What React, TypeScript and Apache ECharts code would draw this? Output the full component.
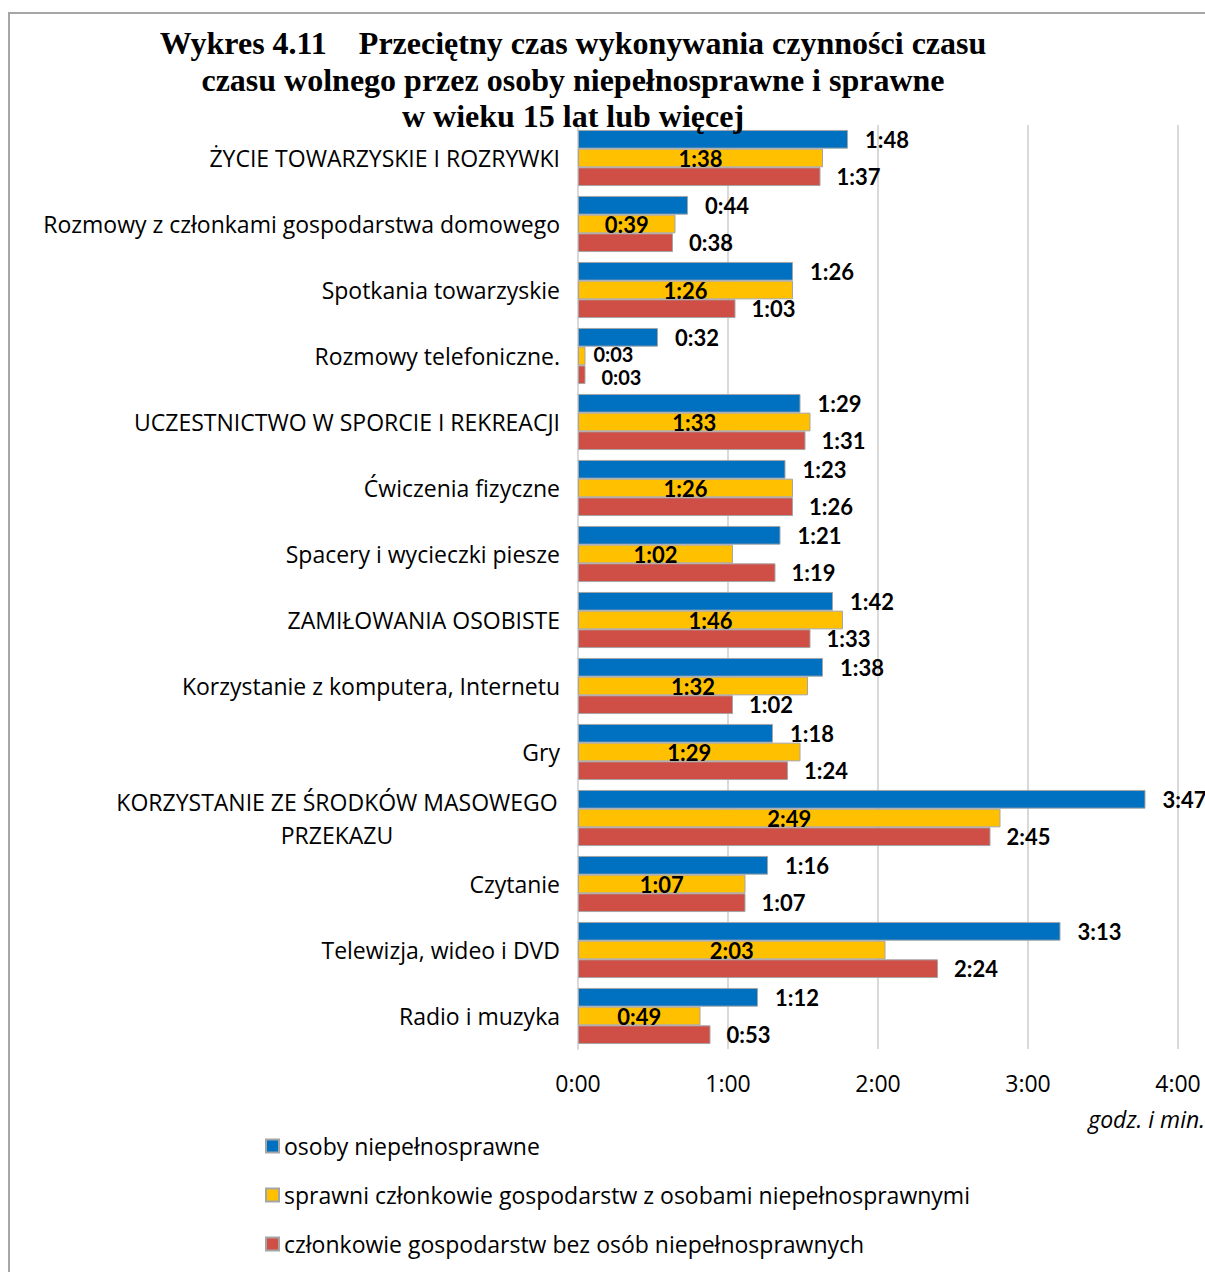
import React, { useEffect, useRef } from "react";
import * as echarts from "echarts";

const categories = [
  "ŻYCIE TOWARZYSKIE I ROZRYWKI",
  "Rozmowy z członkami gospodarstwa domowego",
  "Spotkania towarzyskie",
  "Rozmowy telefoniczne.",
  "UCZESTNICTWO W SPORCIE I REKREACJI",
  "Ćwiczenia fizyczne",
  "Spacery i wycieczki piesze",
  "ZAMIŁOWANIA OSOBISTE",
  "Korzystanie z komputera, Internetu",
  "Gry",
  "KORZYSTANIE ZE ŚRODKÓW MASOWEGO PRZEKAZU",
  "Czytanie",
  "Telewizja, wideo i DVD",
  "Radio i muzyka",
];

// minutes
const disabled = [108, 44, 86, 32, 89, 83, 81, 102, 98, 78, 227, 76, 193, 72];
const ableWithDisabled = [98, 39, 86, 3, 93, 86, 62, 106, 92, 89, 169, 67, 123, 49];
const withoutDisabled = [97, 38, 63, 3, 91, 86, 79, 93, 62, 84, 165, 67, 144, 53];

const seriesNames = [
  "osoby niepełnosprawne",
  "sprawni członkowie gospodarstw z osobami niepełnosprawnymi",
  "członkowie gospodarstw bez osób niepełnosprawnych",
];

const xTicks = [0, 60, 120, 180, 240];

const fmt = (m: number) => {
  const h = Math.floor(m / 60);
  const mm = Math.round(m - h * 60);
  return h + ":" + (mm < 10 ? "0" + mm : "" + mm);
};

const SANS = "'Open Sans', 'Noto Sans', sans-serif";
const BOLD = "Lato, Carlito, Calibri, sans-serif";
const FS = 23;

export default function App() {
  const ref = useRef<HTMLDivElement>(null);
  useEffect(() => {
    if (!ref.current) return;
    const chart = echarts.init(ref.current, null, { renderer: "svg" });
    const border = { borderColor: "#a5a5a5", borderWidth: 1 };
    const lbl = {
      show: true,
      fontFamily: BOLD,
      fontWeight: "bold" as const,
      fontSize: 22,
      lineHeight: 17,
      color: "#000",
      formatter: (p: any) => fmt(p.value),
    };
    const catLbl = "KORZYSTANIE ZE ŚRODKÓW MASOWEGO PRZEKAZU";
    chart.setOption({
      animation: false,
      backgroundColor: "#fff",
      title: {
        text:
          "Wykres 4.11\u00A0\u00A0\u00A0\u00A0Przeciętny czas wykonywania czynności czasu\nczasu wolnego przez osoby niepełnosprawne i sprawne\nw wieku 15 lat lub więcej",
        left: 568,
        top: 20,
        textAlign: "center",
        textStyle: {
          fontFamily: "'Liberation Serif', 'Times New Roman', serif",
          fontWeight: "bold",
          fontSize: 32,
          lineHeight: 36.5,
          color: "#000",
        },
      },
      graphic: [
        {
          type: "rect",
          shape: { x: 9, y: 13, width: 1300, height: 1400 },
          style: { fill: "none", stroke: "#a6a6a6", lineWidth: 2 },
          silent: true,
        },
        {
          type: "text",
          right: 0,
          top: 1107,
          style: {
            text: "godz. i min.",
            fontFamily: SANS,
            fontStyle: "italic",
            fontSize: FS,
            fill: "#000",
          },
        },
      ],
      legend: {
        orient: "vertical",
        left: 260,
        top: 1128,
        itemWidth: 13,
        itemHeight: 13,
        itemGap: 23,
        icon: "rect",
        textStyle: {
          fontFamily: SANS,
          fontSize: FS,
          lineHeight: 26,
          color: "#000",
        },
        data: seriesNames,
      },
      grid: { left: 578, right: 27, top: 125, bottom: 223 },
      xAxis: {
        type: "value",
        min: 0,
        max: 240,
        interval: 60,
        axisLine: { show: false },
        axisTick: { show: false },
        splitLine: { lineStyle: { color: "#d9d9d9", width: 2 } },
        axisLabel: {
          fontFamily: SANS,
          fontSize: FS,
          color: "#000",
          margin: 22,
          formatter: (v: number) => (xTicks.indexOf(v) >= 0 ? fmt(v) : ""),
        },
      },
      yAxis: {
        type: "category",
        inverse: true,
        data: categories,
        axisLine: { show: true, lineStyle: { color: "#d9d9d9", width: 2 } },
        axisTick: { show: false },
        axisLabel: {
          fontFamily: SANS,
          fontSize: FS,
          color: "#000",
          margin: 18,
          lineHeight: 33,
          formatter: (v: string) => {
            if (v === catLbl) {
              return "{c|KORZYSTANIE ZE ŚRODKÓW MASOWEGO}\n{c|PRZEKAZU}";
            }
            return v;
          },
          rich: {
            c: {
              width: 446,
              align: "center",
              fontFamily: SANS,
              fontSize: FS,
              lineHeight: 33,
              color: "#000",
            },
          },
        },
      },
      series: [
        {
          name: seriesNames[0],
          type: "bar",
          barGap: "0%",
          barCategoryGap: "15%",
          data: disabled,
          itemStyle: { color: "#0070C0", ...border },
          label: { ...lbl, position: "right", distance: 17 },
        },
        {
          name: seriesNames[1],
          type: "bar",
          barGap: "0%",
          barCategoryGap: "15%",
          data: ableWithDisabled.map((v) =>
            v < 10
              ? {
                  value: v,
                  label: { position: "right", distance: 8, offset: [0, -2], fontSize: 20 },
                }
              : v
          ),
          itemStyle: { color: "#FFC000", ...border },
          label: { ...lbl, position: "inside" },
        },
        {
          name: seriesNames[2],
          type: "bar",
          barGap: "0%",
          barCategoryGap: "15%",
          data: withoutDisabled.map((v) =>
            v < 10 ? { value: v, label: { offset: [0, 2], fontSize: 20 } } : v
          ),
          itemStyle: { color: "#CF4F47", ...border },
          label: { ...lbl, position: "right", distance: 16 },
        },
      ],
    });
    return () => chart.dispose();
  }, []);
  return (
    <div
      ref={ref}
      style={{ position: "absolute", left: 0, top: 0, width: 1205, height: 1272 }}
    />
  );
}
